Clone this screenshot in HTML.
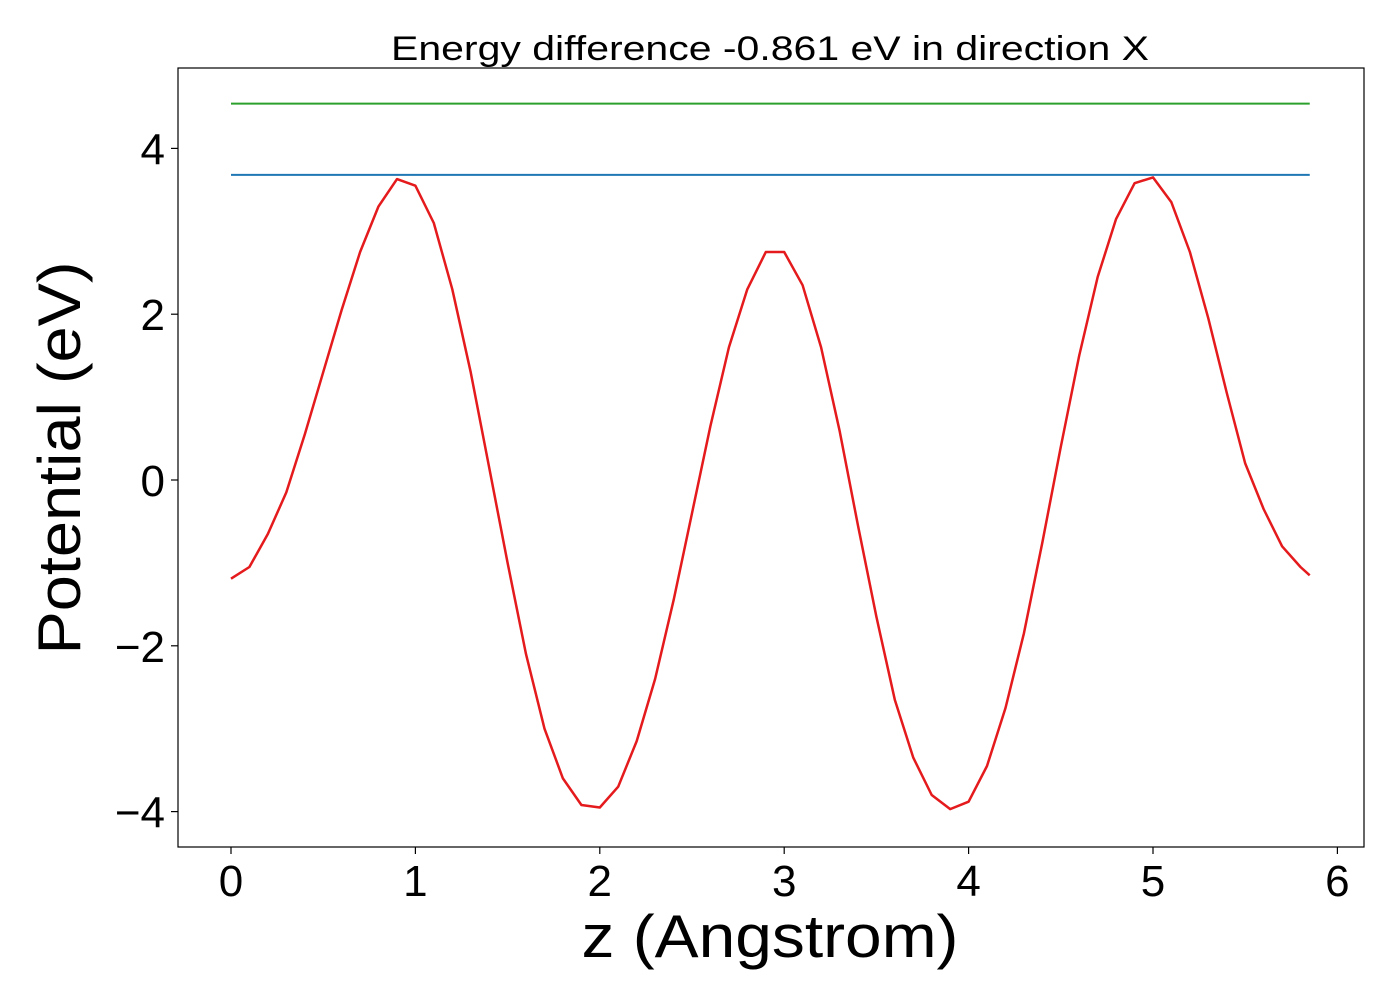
<!DOCTYPE html>
<html><head><meta charset="utf-8"><style>
html,body{margin:0;padding:0;background:#fff}
svg{display:block;font-family:"Liberation Sans","DejaVu Sans",sans-serif}
</style></head><body>
<svg id="chart" width="1400" height="1000" viewBox="0 0 1400 1000" xmlns="http://www.w3.org/2000/svg">
<rect x="0" y="0" width="1400" height="1000" fill="#fff"/>
<text x="770" y="60" font-size="34" textLength="758" lengthAdjust="spacingAndGlyphs" text-anchor="middle" fill="#000">Energy difference -0.861 eV in direction X</text>
<g id="xticks"></g>
<g id="yticks"></g>
<g id="series"></g>
<rect x="178" y="68" width="1186" height="779" fill="none" stroke="#000" stroke-width="1.2"/>
<text x="770" y="957" font-size="60" textLength="377" lengthAdjust="spacingAndGlyphs" text-anchor="middle" fill="#000">z (Angstrom)</text>
<text transform="translate(80,458) rotate(-90)" font-size="60" textLength="393" lengthAdjust="spacingAndGlyphs" text-anchor="middle" fill="#000">Potential (eV)</text>
</svg>
<script>
const zValues = [0,0.1,0.2,0.3,0.4,0.5,0.6,0.7,0.8,0.9,1.0,1.1,1.2,1.3,1.4,1.5,1.6,1.7,1.8,1.9,2.0,2.1,2.2,2.3,2.4,2.5,2.6,2.7,2.8,2.9,3.0,3.1,3.2,3.3,3.4,3.5,3.6,3.7,3.8,3.9,4.0,4.1,4.2,4.3,4.4,4.5,4.6,4.7,4.8,4.9,5.0,5.1,5.2,5.3,5.4,5.5,5.6,5.7,5.8,5.85];
const potential = [-1.19,-1.05,-0.65,-0.15,0.55,1.3,2.05,2.75,3.3,3.63,3.55,3.1,2.3,1.3,0.15,-1.0,-2.1,-3.0,-3.6,-3.92,-3.95,-3.7,-3.15,-2.4,-1.45,-0.4,0.65,1.6,2.3,2.75,2.75,2.35,1.6,0.6,-0.55,-1.65,-2.65,-3.35,-3.8,-3.97,-3.88,-3.45,-2.75,-1.85,-0.75,0.4,1.5,2.45,3.15,3.58,3.65,3.35,2.75,1.95,1.05,0.2,-0.35,-0.8,-1.05,-1.15];
const maxLevel = [4.54];
const barrierLevel = [3.68];
const xTickLabels = [0,1,2,3,4,5,6];
const yTickLabels = [-4,-2,0,2,4];
const NS = "http://www.w3.org/2000/svg";
function xs(v){return 231 + v*184.4;}
function ys(v){return 480 - v*82.9;}
function mk(tag, attrs, parent){const e=document.createElementNS(NS,tag);for(const k in attrs)e.setAttribute(k,attrs[k]);parent.appendChild(e);return e;}
const xg=document.getElementById('xticks'), yg=document.getElementById('yticks'), sg=document.getElementById('series');
xTickLabels.forEach(t=>{
  const l=mk('line',{x1:xs(t),x2:xs(t),y1:847,y2:854,stroke:'#000','stroke-width':1.2},xg);
  
  
  const tx=mk('text',{x:xs(t),y:896,'font-size':44,'text-anchor':'middle',fill:'#000'},xg);
  tx.textContent=String(t);
  
  
});
yTickLabels.forEach(t=>{
  const l=mk('line',{x1:171,x2:178,y1:ys(t),y2:ys(t),stroke:'#000','stroke-width':1.2},yg);
  
  
  const tx=mk('text',{x:165,y:ys(t)+16,'font-size':44,'text-anchor':'end',fill:'#000'},yg);
  tx.textContent=(t<0?'\u2212'+Math.abs(t):String(t));
  
  
});
const z0=zValues[0], z1=zValues[zValues.length-1];
const g=mk('line',{x1:xs(z0),x2:xs(z1),y1:ys(maxLevel[0]),y2:ys(maxLevel[0]),stroke:'#2ca02c','stroke-width':2},sg);


const b=mk('line',{x1:xs(z0),x2:xs(z1),y1:ys(barrierLevel[0]),y2:ys(barrierLevel[0]),stroke:'#1f77b4','stroke-width':2},sg);


const pts=zValues.map((z,i)=>xs(z).toFixed(1)+','+ys(potential[i]).toFixed(1)).join(' ');
const p=mk('polyline',{points:pts,fill:'none',stroke:'#e41a1c','stroke-width':2.5,'stroke-linejoin':'round'},sg);


</script>
</body></html>
